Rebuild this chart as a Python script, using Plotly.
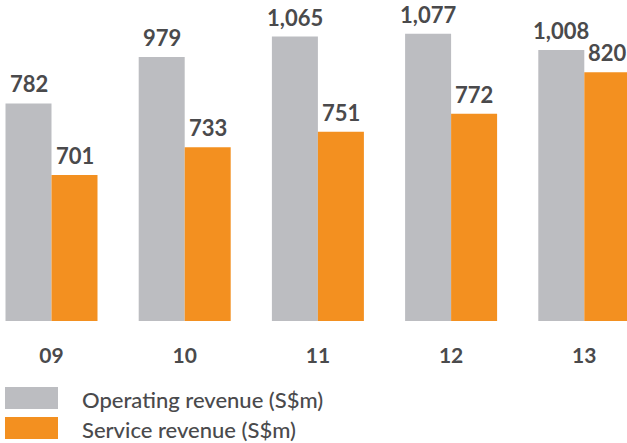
"""Operating vs service revenue, grouped bars in annual-report style."""

import plotly.graph_objects as go

# ------------------------------------------------------------------
# Data
# ------------------------------------------------------------------

years = ["09", "10", "11", "12", "13"]
operating_revenue = [782, 979, 1065, 1077, 1008]
service_revenue = [701, 733, 751, 772, 820]

series_names = ["Operating revenue (S$m)", "Service revenue (S$m)"]

# ------------------------------------------------------------------
# Styling
# ------------------------------------------------------------------

GREY = "#BCBDC1"
ORANGE = "#F39020"
TEXT = "#4A4A4C"
FONT = "Lato"

W, H = 627, 443
PLOT_BOTTOM = 321  # px from top where bars sit
GROUP_PITCH = 133.2  # px between group centres
FIRST_CENTRE = 51.5  # px
BAR_W = 46 / GROUP_PITCH

# the artwork is not drawn to a common scale, so each series gets its own axis
GREY_RANGE = [-138.6, 1219.8]
ORANGE_RANGE = [531.9, 903.6]

x_min = -FIRST_CENTRE / GROUP_PITCH
x_max = x_min + W / GROUP_PITCH

fig = go.Figure()
fig.add_trace(
    go.Bar(
        x=years,
        y=[v - GREY_RANGE[0] for v in operating_revenue],
        base=GREY_RANGE[0],
        name=series_names[0],
        marker=dict(color=GREY, line=dict(width=0)),
        width=BAR_W,
        offset=-BAR_W,
        yaxis="y",
        showlegend=False,
    )
)
fig.add_trace(
    go.Bar(
        x=years,
        y=[v - ORANGE_RANGE[0] for v in service_revenue],
        base=ORANGE_RANGE[0],
        name=series_names[1],
        marker=dict(color=ORANGE, line=dict(width=0)),
        width=BAR_W,
        offset=0,
        yaxis="y2",
        showlegend=False,
    )
)

label_font = dict(family=FONT, size=22, color=TEXT, weight=700)
annotations = []
for i, v in enumerate(operating_revenue):
    annotations.append(
        dict(x=i, y=v, xref="x", yref="y", text=f"{v:,}", showarrow=False,
             xshift=-23, yanchor="bottom", yshift=4, font=label_font)
    )
for i, v in enumerate(service_revenue):
    annotations.append(
        dict(x=i, y=v, xref="x", yref="y2", text=f"{v:,}", showarrow=False,
             xshift=23, yanchor="bottom", yshift=4, font=label_font)
    )

# hand-made legend: wide swatches with labels beside them
shapes = []
for i, (name, col) in enumerate(zip(series_names, [GREY, ORANGE])):
    top = 387 + i * 30
    shapes.append(
        dict(type="rect", xref="paper", yref="paper",
             x0=5 / W, x1=58 / W,
             y0=(PLOT_BOTTOM - top) / PLOT_BOTTOM,
             y1=(PLOT_BOTTOM - top - 22) / PLOT_BOTTOM,
             fillcolor=col, line=dict(width=0))
    )
    annotations.append(
        dict(x=80 / W, y=(PLOT_BOTTOM - top - 12) / PLOT_BOTTOM,
             xref="paper", yref="paper", text=name, showarrow=False,
             xanchor="left", yanchor="middle",
             font=dict(family=FONT, size=22, color=TEXT, weight=500))
    )

fig.update_layout(
    width=W,
    height=H,
    margin=dict(l=0, r=0, t=0, b=H - PLOT_BOTTOM),
    paper_bgcolor="white",
    plot_bgcolor="white",
    barmode="overlay",
    showlegend=False,
    xaxis=dict(
        type="category",
        range=[x_min, x_max],
        showgrid=False,
        zeroline=False,
        showline=False,
        ticks="",
        ticklabelstandoff=20,
        tickfont=dict(family=FONT, size=21, color=TEXT, weight=700),
    ),
    yaxis=dict(range=GREY_RANGE, visible=False, fixedrange=True),
    yaxis2=dict(range=ORANGE_RANGE, visible=False, overlaying="y", fixedrange=True),
    annotations=annotations,
    shapes=shapes,
)

fig.write_html(
    "out.html",
    config={"displayModeBar": False},
    post_script="document.body.style.margin='0';",
)
